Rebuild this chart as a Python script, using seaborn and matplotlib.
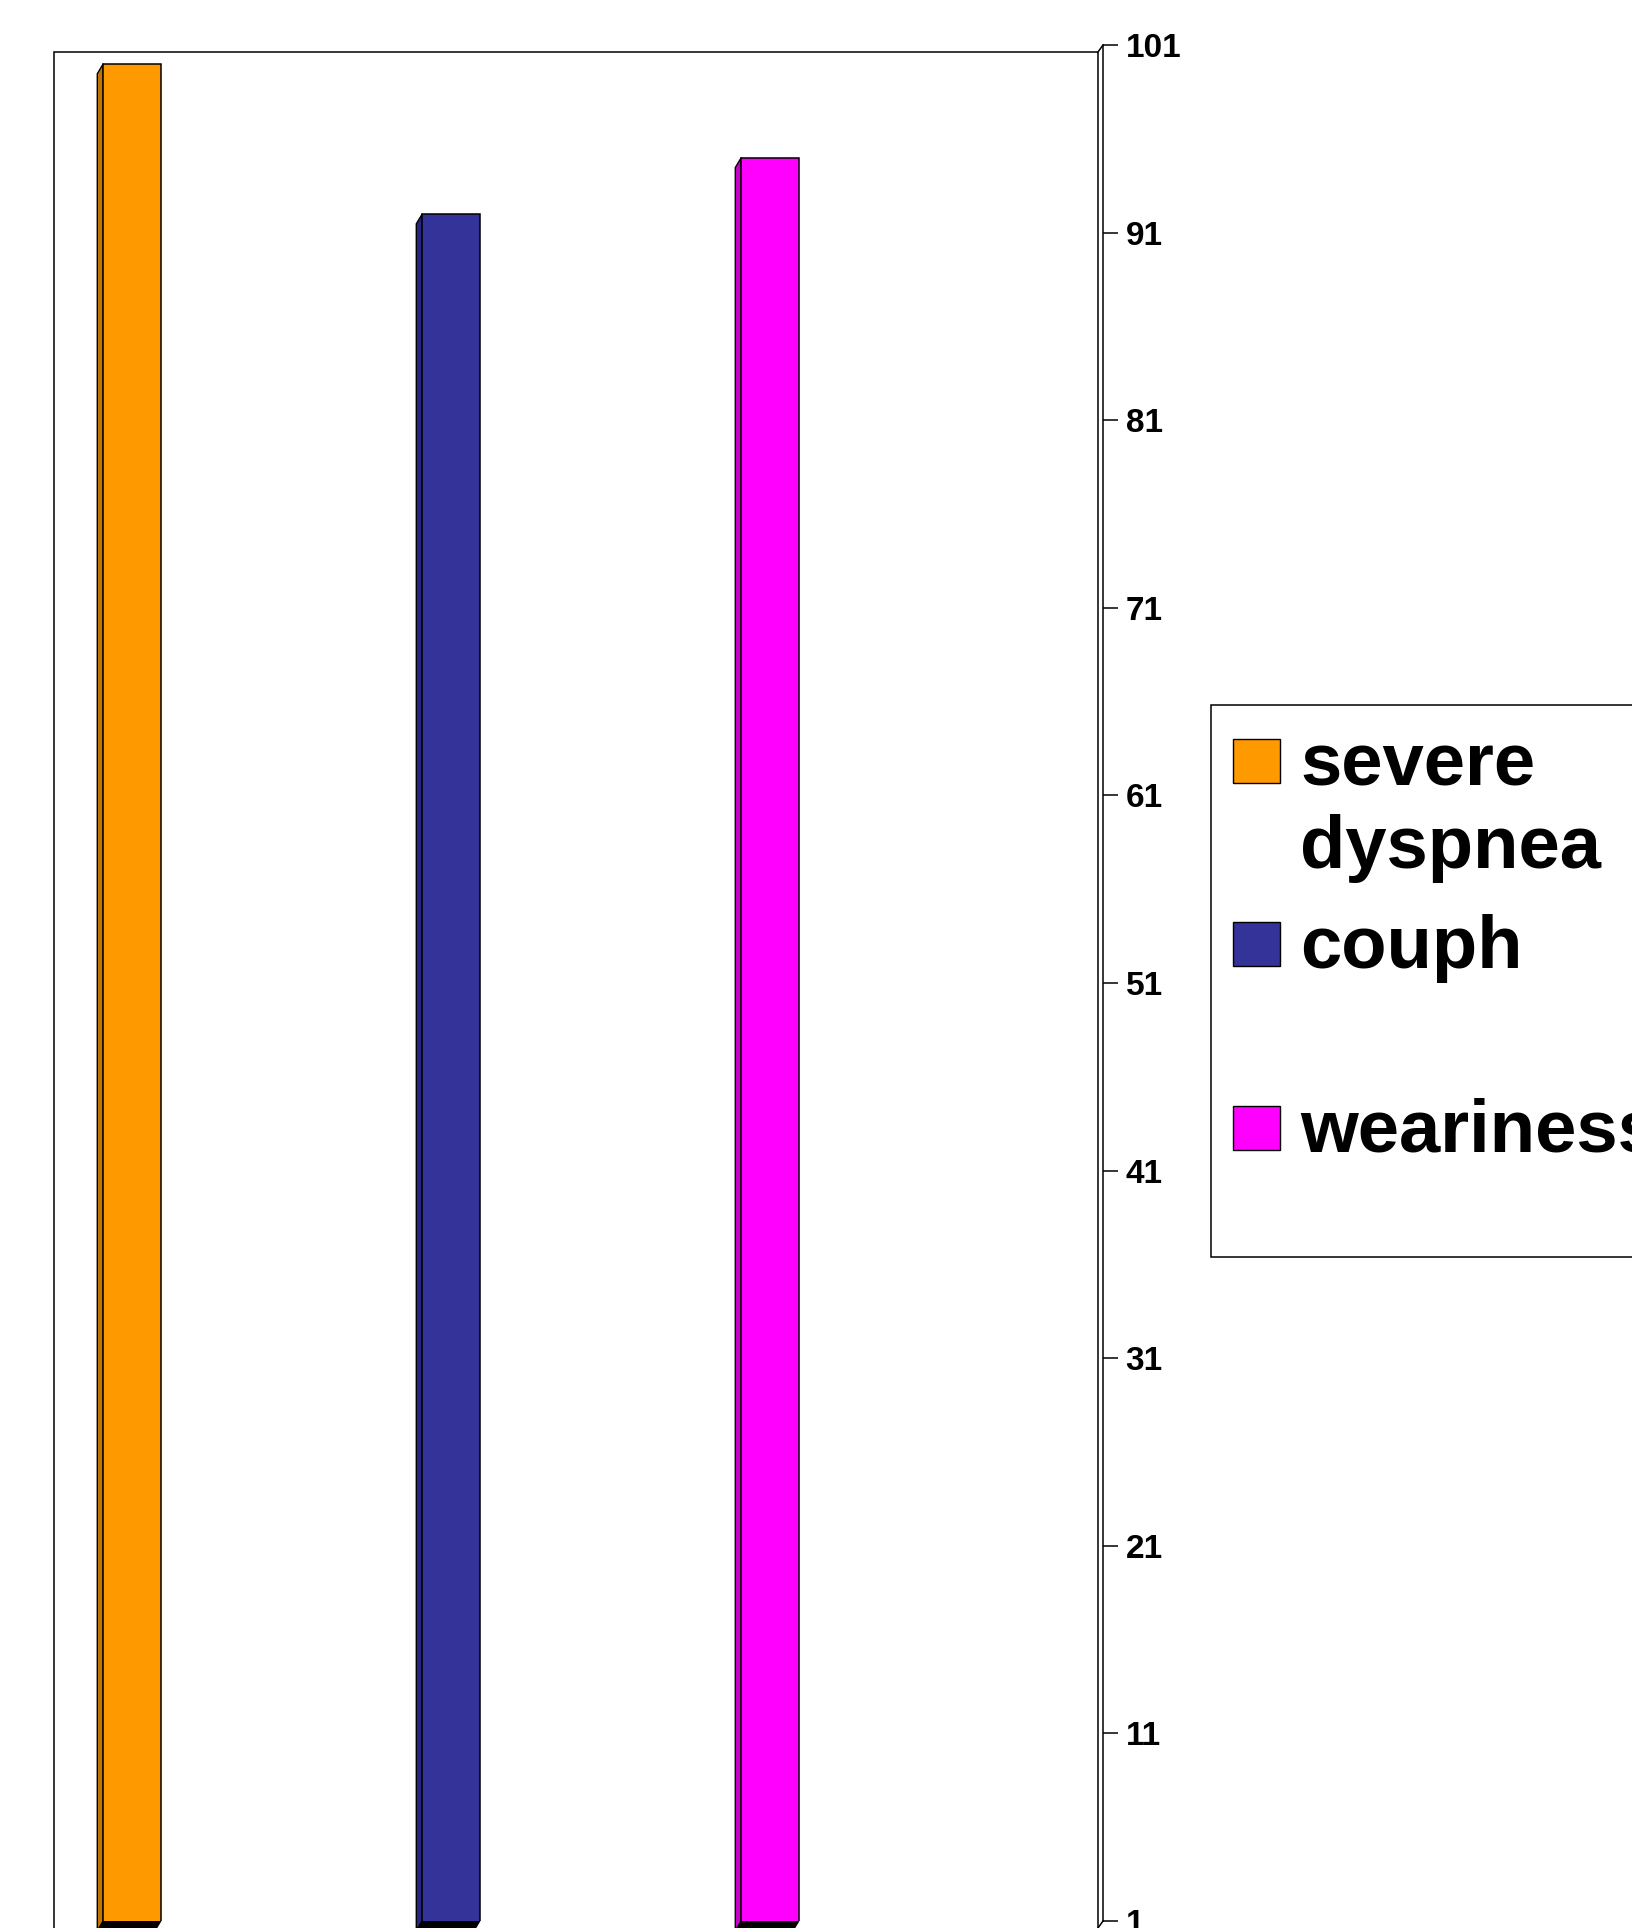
import pandas as pd
import matplotlib
matplotlib.use("Agg")
import matplotlib.pyplot as plt
from matplotlib.patches import Rectangle, Polygon
from matplotlib.lines import Line2D
import seaborn as sns

symptoms = ["severe dyspnea", "couph", "weariness"]
legend_lines = [["severe", "dyspnea"], ["couph"], ["weariness"]]
values = [100, 92, 95]
colors = ["#FF9900", "#333399", "#FF00FF"]
side_colors = ["#C27400", "#26267A", "#C800C8"]
ticks = [1, 11, 21, 31, 41, 51, 61, 71, 81, 91, 101]

sns.set_style("white")
plt.rcParams["font.family"] = ["Liberation Sans", "DejaVu Sans"]
plt.rcParams["font.weight"] = "bold"

W, H = 1632, 1928
def fx(px):
    return px / W
def fy(py):
    return 1 - py / H

fig = plt.figure(figsize=(W / 100, H / 100), dpi=100)
fig.patch.set_facecolor("white")

# axes: value axis runs from y=45px (101) to y=1921px (1)
ax = fig.add_axes([fx(54), fy(1921), fx(1103) - fx(54), fy(45) - fy(1921)])
ax.patch.set_alpha(0)

df = pd.DataFrame({"symptom": symptoms, "value": values})
sns.barplot(data=df, x="symptom", y="value", hue="symptom",
            palette=dict(zip(symptoms, colors)), width=0.18, saturation=1,
            edgecolor="black", linewidth=1.1, legend=False, ax=ax, zorder=3)

px_per_unit = 319.0
ax.set_xlim(-78 / px_per_unit, 971 / px_per_unit)
ax.set_ylim(1, 101)
px_per_val = (1921 - 45) / 100.0

# fake 3D depth: side face to the lower left, black floor face
dx = 6 / px_per_unit
dy = 10 / px_per_val
for i, v in enumerate(values):
    x0 = i - 0.09
    x1 = i + 0.09
    base = 1
    side = Polygon([(x0, v), (x0 - dx, v - dy), (x0 - dx, base - dy), (x0, base)],
                   closed=True, facecolor=side_colors[i], edgecolor="black",
                   linewidth=1.0, zorder=2, clip_on=False)
    ax.add_patch(side)
    floor = Polygon([(x0, base), (x1, base), (x1 - dx, base - dy), (x0 - dx, base - dy)],
                    closed=True, facecolor="black", edgecolor="black",
                    linewidth=1.0, zorder=2, clip_on=False)
    ax.add_patch(floor)

ax.yaxis.tick_right()
ax.set_yticks(ticks)
ax.set_yticklabels([str(t) for t in ticks], fontsize=24, fontweight="bold")
ax.tick_params(axis="y", length=10.8, width=1.1, pad=5.5, colors="black")
ax.set_xticks([])
ax.set_xlabel("")
ax.set_ylabel("")
for s in ["left", "top", "bottom"]:
    ax.spines[s].set_visible(False)
ax.spines["right"].set_linewidth(1.1)
ax.spines["right"].set_color("black")

# back wall
wall = Rectangle((fx(54), fy(1960)), fx(1098) - fx(54), fy(52) - fy(1960),
                 transform=fig.transFigure, facecolor="none",
                 edgecolor="black", linewidth=1.1, zorder=1)
fig.add_artist(wall)
fig.add_artist(Line2D([fx(1098), fx(1103)], [fy(52), fy(45)],
                      transform=fig.transFigure, color="black", linewidth=1.1))
fig.add_artist(Line2D([fx(1098), fx(1103)], [fy(1928), fy(1921)],
                      transform=fig.transFigure, color="black", linewidth=1.1))

# legend box (runs past the right edge like the original)
box = Rectangle((fx(1211), fy(1257)), fx(1720) - fx(1211), fy(705) - fy(1257),
                transform=fig.transFigure, facecolor="white",
                edgecolor="black", linewidth=1.1, zorder=4)
fig.add_artist(box)
first_baselines = [785, 968, 1152]
for i, lines in enumerate(legend_lines):
    b = first_baselines[i]
    sq = Rectangle((fx(1233), fy(b - 2)), fx(1280) - fx(1233), fy(b - 46) - fy(b - 2),
                   transform=fig.transFigure, facecolor=colors[i],
                   edgecolor="black", linewidth=1.0, zorder=5)
    fig.add_artist(sq)
    for j, line in enumerate(lines):
        fig.text(fx(1300), fy(b + 83 * j), line, fontsize=53.5, fontweight="bold",
                 ha="left", va="baseline", color="black", zorder=6)

fig.savefig("out.png", dpi=100)
